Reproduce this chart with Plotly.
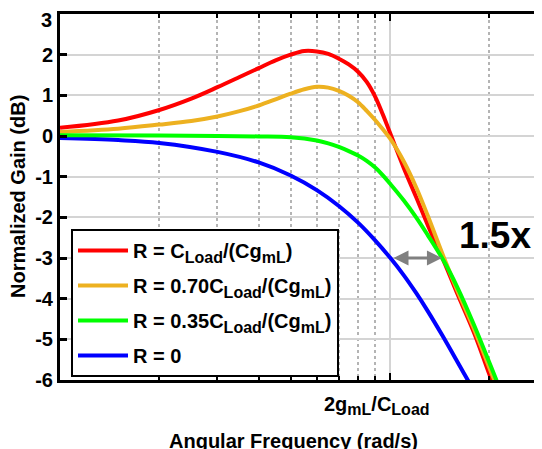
import plotly.graph_objects as go
import math

# Normalized angular frequency (1.0 == 2g_mL/C_Load)
freq_red = [0.1, 0.15, 0.2, 0.25, 0.3, 0.35, 0.4, 0.45, 0.5, 0.55, 0.6, 0.65, 0.7, 0.75, 0.8, 0.85, 0.9, 0.95, 1.0, 1.1, 1.2, 1.3, 1.45, 1.6, 1.8, 2.03, 2.2]
gain_red = [0.20, 0.38, 0.64, 0.92, 1.20, 1.45, 1.67, 1.86, 2.00, 2.09, 2.08, 2.02, 1.90, 1.76, 1.58, 1.33, 0.98, 0.54, 0.08, -0.78, -1.50, -2.18, -3.05, -3.88, -4.85, -6.0, -6.7]

freq_orange = [0.1, 0.15, 0.2, 0.25, 0.3, 0.35, 0.4, 0.45, 0.5, 0.55, 0.6, 0.65, 0.7, 0.75, 0.8, 0.85, 0.9, 0.95, 1.0, 1.1, 1.2, 1.3, 1.45, 1.6, 1.8, 2.07, 2.25]
gain_orange = [0.10, 0.18, 0.28, 0.37, 0.48, 0.61, 0.75, 0.90, 1.04, 1.15, 1.21, 1.19, 1.11, 0.99, 0.83, 0.62, 0.40, 0.17, -0.06, -0.62, -1.26, -1.95, -2.95, -3.80, -4.76, -6.0, -6.7]

freq_green = [0.1, 0.2, 0.3, 0.4, 0.5, 0.6, 0.65, 0.7, 0.75, 0.8, 0.85, 0.9, 0.95, 1.0, 1.1, 1.2, 1.3, 1.45, 1.6, 1.8, 2.1, 2.3]
gain_green = [0.02, 0.01, 0.0, -0.01, -0.03, -0.11, -0.18, -0.27, -0.37, -0.48, -0.61, -0.77, -0.96, -1.17, -1.58, -2.00, -2.43, -3.05, -3.72, -4.66, -6.0, -6.8]

freq_blue = [0.1, 0.15, 0.2, 0.3, 0.4, 0.5, 0.6, 0.7, 0.8, 0.9, 1.0, 1.1, 1.2, 1.3, 1.44, 1.6, 1.72, 1.85]
gain_blue = [-0.05, -0.10, -0.17, -0.39, -0.65, -0.97, -1.33, -1.72, -2.13, -2.56, -2.99, -3.42, -3.86, -4.30, -4.90, -5.55, -6.0, -6.45]

SUB = '<sub><span style="font-size:16px">{}</span></sub>'
series_names = [
    "R = C" + SUB.format("Load") + "/(Cg" + SUB.format("mL") + ")",
    "R = 0.70C" + SUB.format("Load") + "/(Cg" + SUB.format("mL") + ")",
    "R = 0.35C" + SUB.format("Load") + "/(Cg" + SUB.format("mL") + ")",
    "R = 0",
]
series_colors = ["#FF0000", "#EDB120", "#00FF00", "#0000FF"]

minor_grid = [0.2, 0.3, 0.4, 0.5, 0.6, 0.7, 0.8, 0.9, 2, 3]
y_ticks = [-6, -5, -4, -3, -2, -1, 0, 1, 2, 3]
y_tick_text = ["-6", "-5", "-4", "-3", "-2", "-1", "0", "1", "2", ""]
top_tick_label = "3"   # drawn just inside the top edge, as in the reference
x_tick_label = "2g" + SUB.format("mL") + "/C" + SUB.format("Load")
speedup_label = "1.5x"

FONT = "Liberation Sans, Arial, sans-serif"

# page body has an 8px default margin; compensate so the plot area sits at x 60..542, y 14..380
OFF = 8
PL, PT, PB = 60, 14, 380          # plot-area edges in page pixels
PW = 542 - PL                      # plot width
PH = PB - PT                       # plot height


def px_to_paper_x(px):
    return (px - PL) / PW


def py_to_paper_y(py):
    return (PB - py) / PH


fig = go.Figure()
data = [(freq_red, gain_red), (freq_orange, gain_orange), (freq_green, gain_green), (freq_blue, gain_blue)]
order = [3, 0, 1, 2]
for i in order:
    fx, gy = data[i]
    fig.add_trace(go.Scatter(
        x=fx, y=gy, mode="lines", name=series_names[i],
        line=dict(color=series_colors[i], width=4, shape="spline", smoothing=1.0),
        legendrank=i + 1, legendgroup="g%d" % i,
    ))

fig.update_layout(
    width=542 - OFF, height=449 - OFF,
    margin=dict(l=PL - OFF, r=0, t=PT - OFF, b=(449 - OFF) - (PB - OFF)),
    paper_bgcolor="white", plot_bgcolor="white",
    font=dict(family=FONT, size=20, color="black", weight="bold"),
    showlegend=True,
    legend=dict(
        x=px_to_paper_x(71), y=py_to_paper_y(229), xanchor="left", yanchor="top",
        bgcolor="white", bordercolor="black", borderwidth=2,
        font=dict(family=FONT, size=20, color="black", weight="bold"),
        tracegroupgap=6, itemwidth=50,
    ),
    xaxis=dict(
        type="log", range=[-1, 0.4606], automargin=False,
        tickmode="array", tickvals=[1], ticktext=[""],
        ticks="inside", ticklen=7, tickwidth=2, tickcolor="black",
        showgrid=True, gridcolor="#d4d4d4", gridwidth=1.5,
        showline=True, linecolor="black", linewidth=3, mirror="allticks",
        zeroline=False,
        minor=dict(
            tickmode="array", tickvals=minor_grid,
            ticks="inside", ticklen=4, tickwidth=1.5, tickcolor="black",
            showgrid=True, gridcolor="#b4b4b4", gridwidth=1.5, griddash="dot",
        ),
    ),
    yaxis=dict(
        range=[-6, 3], automargin=False,
        tickmode="array", tickvals=y_ticks, ticktext=y_tick_text,
        ticks="inside", ticklen=7, tickwidth=2.5, tickcolor="black",
        tickfont=dict(family=FONT, size=20, color="black", weight="bold"),
        showgrid=True, gridcolor="#d4d4d4", gridwidth=1.5,
        showline=True, linecolor="black", linewidth=3, mirror=False,
        zeroline=False,
    ),
)

annotations = [
    dict(text=top_tick_label, x=0, xref="paper", y=3, yref="y", xanchor="right", yanchor="middle",
         xshift=-6, yshift=-6, showarrow=False, font=dict(family=FONT, size=20, color="black", weight="bold")),
    dict(text=x_tick_label, x=0, xref="x", y=0, yref="paper", yanchor="top", xanchor="center",
         xshift=-13, yshift=-11, showarrow=False, font=dict(family=FONT, size=20, color="black", weight="bold")),
    dict(text="Angular Frequency (rad/s)", x=px_to_paper_x(293), xref="paper", y=py_to_paper_y(428), yref="paper",
         xanchor="center", yanchor="top", showarrow=False,
         font=dict(family=FONT, size=20, color="black", weight="bold")),
    dict(text="Normalized Gain (dB)", x=px_to_paper_x(18), xref="paper", y=py_to_paper_y(197), yref="paper",
         xanchor="center", yanchor="middle", textangle=-90, showarrow=False,
         font=dict(family=FONT, size=20, color="black", weight="bold")),
    dict(text=speedup_label, x=px_to_paper_x(495), xref="paper", y=-2.45, yref="y", xanchor="center", yanchor="middle",
         showarrow=False, font=dict(family=FONT, size=37, color="black", weight="bold")),
    dict(text="", x=math.log10(1.437), y=-3, xref="x", yref="y",
         ax=math.log10(1.014), ay=-3, axref="x", ayref="y",
         showarrow=True, arrowhead=2, arrowside="end+start", arrowsize=1.0, arrowwidth=3,
         arrowcolor="#808080", standoff=0, startstandoff=0),
]
fig.update_layout(annotations=annotations)

fig.write_html("out.html")
